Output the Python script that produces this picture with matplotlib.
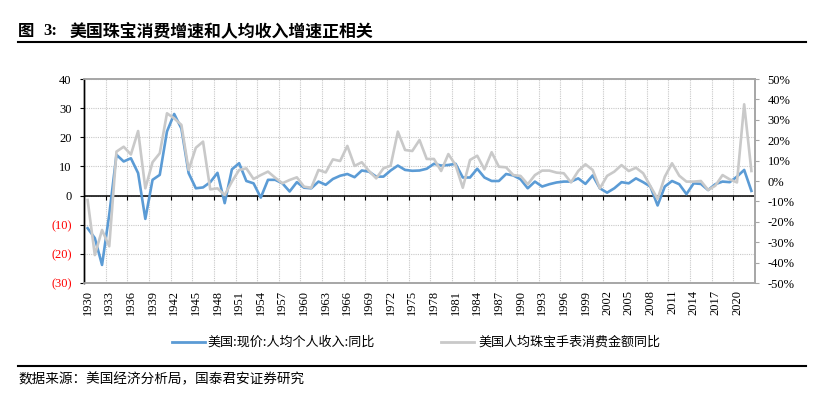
import matplotlib
matplotlib.use("Agg")
import matplotlib.pyplot as plt
from matplotlib.lines import Line2D
from matplotlib.ticker import FuncFormatter

# ---------------- data ----------------
years = list(range(1930, 2023))
income_yoy = [
    -11.2, -14.6, -23.8, -6.5, 14.0, 11.7, 12.8, 7.7, -8.0, 5.4,
    7.1, 22.0, 28.0, 23.0, 7.7, 2.5, 2.8, 4.6, 7.8, -2.6,
    9.0, 11.1, 5.0, 4.2, -0.7, 5.4, 5.4, 4.2, 1.4, 4.6,
    2.7, 2.5, 4.8, 3.7, 5.7, 6.8, 7.4, 6.3, 8.6, 8.2,
    6.5, 6.5, 8.6, 10.3, 8.8, 8.5, 8.6, 9.2, 10.9, 10.3,
    10.5, 10.9, 6.2, 6.2, 9.2, 6.2, 5.0, 5.0, 7.4, 6.9,
    5.6, 2.5, 4.8, 3.1, 3.9, 4.5, 4.8, 4.8, 5.9, 4.0,
    6.9, 2.5, 1.0, 2.5, 4.6, 4.2, 5.9, 4.6, 3.1, -3.4,
    3.1, 5.0, 3.9, 0.5, 4.2, 4.0, 1.9, 3.9, 4.8, 4.6,
    6.5, 8.8, 1.6,
]
jewelry_yoy = [
    -9.3, -36.3, -24.0, -32.0, 14.4, 16.8, 13.0, 24.5, -3.6, 9.2,
    13.6, 33.2, 30.7, 27.5, 5.4, 16.3, 19.3, -4.1, -3.6, -6.9,
    -0.3, 5.4, 6.2, 1.0, 2.9, 4.6, 1.6, -1.1, 0.5, 1.8,
    -2.8, -3.3, 5.4, 4.2, 10.6, 9.8, 17.2, 7.4, 9.2, 4.9,
    1.3, 6.2, 7.5, 24.2, 15.2, 14.7, 20.1, 10.8, 10.8, 4.9,
    13.2, 7.8, -3.3, 10.3, 12.4, 5.7, 14.1, 7.0, 6.7, 2.9,
    2.5, -1.6, 2.9, 5.1, 5.1, 4.1, 3.8, -0.7, 4.9, 8.2,
    5.4, -3.6, 2.5, 4.6, 7.8, 4.9, 6.5, 3.8, -2.5, -8.8,
    2.1, 8.7, 2.6, -0.3, -0.3, 0.0, -4.4, -2.3, 2.9, 0.8,
    -0.7, 37.6, 4.9,
]
left_ticks = [-30, -20, -10, 0, 10, 20, 30, 40]
right_ticks = [-50, -40, -30, -20, -10, 0, 10, 20, 30, 40, 50]
label_years = list(range(1930, 2021, 3))

title_prefix = "图"
title_num = "3:"
title_text = "美国珠宝消费增速和人均收入增速正相关"
legend_income = "美国:现价:人均个人收入:同比"
legend_jewelry = "美国人均珠宝手表消费金额同比"
source_text = "数据来源：美国经济分析局，国泰君安证券研究"

# ---------------- styling ----------------
BLUE = "#5B9BD5"
GRAY = "#C9C9C9"
SPINE = "#A6A6A6"
GRID = "#C8C8C8"
SERIF = ["Liberation Serif", "DejaVu Serif"]
CJK = ["Noto Sans CJK SC", "DejaVu Sans"]

W, H = 824, 393
fig = plt.figure(figsize=(W / 100, H / 100), dpi=100)

x0, x1, y0, y1 = 84, 755, 79, 283
ax = fig.add_axes([x0 / W, 1 - y1 / H, (x1 - x0) / W, (y1 - y0) / H])
ax2 = ax.twinx()

ax.set_xlim(years[0] - 0.5, years[-1] + 0.5)
ax.set_ylim(-30, 40)
ax2.set_ylim(-50, 50)

# grid: horizontal at left ticks, vertical at category boundaries every 3 years
bounds = [y - 0.5 for y in label_years[1:]] + [label_years[-1] + 2.5]
ax.set_yticks(left_ticks)
ax.yaxis.grid(True, color=GRID, linestyle=(0, (1, 1)), linewidth=0.8)
ax.set_xticks(label_years)
ax.set_xticks(bounds, minor=True)
ax.xaxis.grid(True, which="minor", color=GRID, linestyle=(0, (1, 1)), linewidth=0.8)
ax.xaxis.grid(False, which="major")
ax.set_axisbelow(True)

# x labels
ax.set_xticklabels([str(y) for y in label_years], rotation=90,
                   fontsize=9, family=SERIF)
ax.tick_params(axis="x", which="both", length=0, pad=5)

# left labels
def left_fmt(v, pos):
    v = int(round(v))
    return f"({abs(v)})" if v < 0 else f"{v}"
ax.yaxis.set_major_formatter(FuncFormatter(left_fmt))
ax.tick_params(axis="y", direction="out", length=3, width=0.8, color="black",
               pad=6, labelsize=9)
for lab, v in zip(ax.get_yticklabels(), left_ticks):
    lab.set_family(SERIF)
    lab.set_color("#FF0000" if v < 0 else "black")

# right labels
ax2.set_yticks(right_ticks)
ax2.set_yticklabels([f"{v}%" for v in right_ticks], fontsize=9, family=SERIF)
ax2.tick_params(axis="y", direction="out", length=3, width=0.8, color=SPINE, pad=6)

# spines
for a in (ax, ax2):
    for s in ("top", "right", "bottom"):
        a.spines[s].set_color(SPINE)
        a.spines[s].set_linewidth(1.2)
    a.spines["left"].set_color("black")
    a.spines["left"].set_linewidth(1.0)

# zero axis with ticks
ax.axhline(0, color="black", linewidth=1.1, zorder=2)
ax.vlines(bounds, -1.4, 0, color="black", linewidth=0.8, zorder=2)

# series
ax.plot(years, income_yoy, color=BLUE, linewidth=1.9, solid_joinstyle="round", zorder=3)
ax2.plot(years, jewelry_yoy, color=GRAY, linewidth=1.9, solid_joinstyle="round", zorder=3)

# title
ty = 1 - 31 / H
fig.text(18 / W, ty, title_prefix, family=CJK, fontsize=11.8, weight="bold",
         va="center", ha="left")
fig.text(43 / W, ty, title_num, family=SERIF, fontsize=12, weight="bold",
         va="center", ha="left")
fig.text(70 / W, ty, title_text, family=CJK, fontsize=12.2, weight="bold",
         va="center", ha="left")
fig.add_artist(Line2D([18 / W, 806 / W], [1 - 42 / H, 1 - 42 / H],
                      color="black", linewidth=1.5, transform=fig.transFigure))

# legend
ly = 1 - 342 / H
fig.add_artist(Line2D([172 / W, 205 / W], [ly, ly], color=BLUE, linewidth=2,
                      transform=fig.transFigure))
fig.text(207 / W, ly, legend_income, family=CJK, fontsize=9.4, va="center", ha="left")
fig.add_artist(Line2D([441 / W, 474 / W], [ly, ly], color=GRAY, linewidth=2,
                      transform=fig.transFigure))
fig.text(478 / W, ly, legend_jewelry, family=CJK, fontsize=9.4, va="center", ha="left")

# source
fig.add_artist(Line2D([18 / W, 806 / W], [1 - 366 / H, 1 - 366 / H],
                      color="black", linewidth=1.5, transform=fig.transFigure))
fig.text(18 / W, 1 - 379 / H, source_text, family=CJK, fontsize=9.8,
         va="center", ha="left")

fig.savefig("out.png", dpi=100)
